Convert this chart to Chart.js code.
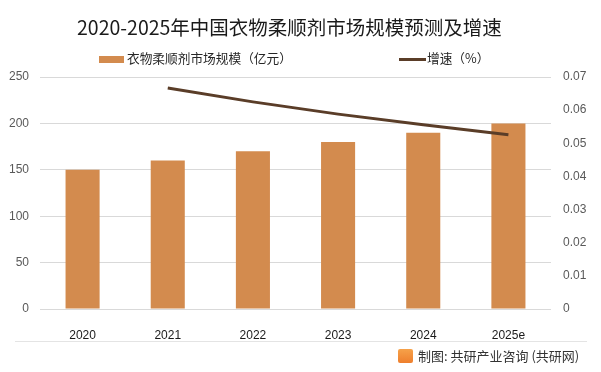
<!DOCTYPE html>
<html>
<head>
<meta charset="utf-8">
<script src="https://cdn.jsdelivr.net/npm/chart.js@4"></script>
<style>
  html, body { margin: 0; padding: 0; background: #fff; }
  #wrap { position: relative; width: 601px; height: 372px; overflow: hidden;
    font-family: "Noto Sans CJK SC", "Noto Sans", sans-serif; }
  #chart { position: absolute; left: 0; top: 0; }
  .title { position: absolute; left: 77px; top: 12px; font-size: 19.5px; color: #1a1a1a; white-space: nowrap; }
  .legend { position: absolute; top: 48px; font-size: 12.7px; color: #262626; white-space: nowrap; }
  .legend i { display: inline-block; vertical-align: middle; margin-right: 3px; }
  .foot-line { position: absolute; left: 15px; right: 14px; top: 341px; height: 1px; background: #e4e4e4; }
  .foot { position: absolute; left: 398px; top: 346px; font-size: 13px; color: #333; white-space: nowrap; }
  .logo { display: inline-block; width: 15px; height: 14px; vertical-align: -2px; margin-right: 5px;
    background: linear-gradient(#f6a24a, #ee7f2d); border-radius: 2px; }
</style>
</head>
<body>
<div id="wrap">
  <canvas id="chart" width="601" height="372"></canvas>
  <div class="title">2020-2025年中国衣物柔顺剂市场规模预测及增速</div>
  <div class="legend" style="left:99px"><i style="width:25px;height:7px;background:#d38b4e"></i>衣物柔顺剂市场规模（亿元）</div>
  <div class="legend" style="left:399px"><i style="width:27px;height:3px;background:#5a3d28;margin-right:1px"></i>增速（%）</div>
  <div class="foot-line"></div>
  <div class="foot"><span class="logo"></span>制图: 共研产业咨询 (共研网)</div>
</div>
<script>
// 연도 / 시장규모(억위안) / 증속
const years = ['2020', '2021', '2022', '2023', '2024', '2025e'];
const marketSize = [150, 160, 170, 180, 190, 200];
const growthRate = [null, 0.0667, 0.0625, 0.0588, 0.0556, 0.0526];
const leftTicks = [0, 50, 100, 150, 200, 250];
const rightTicks = ['0', '0.01', '0.02', '0.03', '0.04', '0.05', '0.06', '0.07'];

const tickFont = { family: 'Liberation Sans', size: 12 };

new Chart(document.getElementById('chart'), {
  data: {
    labels: years,
    datasets: [{
      type: 'line',
      label: '增速（%）',
      data: growthRate,
      yAxisID: 'y1',
      borderColor: '#5a3d28',
      borderWidth: 3,
      pointRadius: 0,
      tension: 0,
      order: 0
    }, {
      type: 'bar',
      label: '衣物柔顺剂市场规模（亿元）',
      data: marketSize,
      yAxisID: 'y',
      backgroundColor: '#d38b4e',
      barPercentage: 0.4,
      categoryPercentage: 1,
      order: 1
    }]
  },
  options: {
    responsive: false,
    animation: false,
    layout: { padding: { top: 77, left: 0, right: 0, bottom: 0 } },
    plugins: {
      legend: { display: false },
      title: { display: false },
      tooltip: { enabled: false }
    },
    scales: {
      x: {
        grid: { display: false },
        border: { display: false },
        ticks: { color: '#1a1a1a', font: tickFont, padding: 11 },
        afterFit(scale) { scale.height = 63; }
      },
      y: {
        position: 'left',
        min: leftTicks[0],
        max: leftTicks[leftTicks.length - 1],
        grid: { color: '#d9d9d9', drawTicks: false },
        border: { display: false },
        ticks: { stepSize: 50, color: '#595959', font: tickFont, padding: 11 },
        afterFit(scale) { scale.width = 40; }
      },
      y1: {
        position: 'right',
        min: 0,
        max: 0.07,
        grid: { display: false, drawTicks: false },
        border: { display: false },
        ticks: {
          stepSize: 0.01,
          color: '#595959',
          font: tickFont,
          padding: 12,
          callback: (v, i) => rightTicks[i]
        },
        afterFit(scale) { scale.width = 50; }
      }
    }
  }
});
</script>
</body>
</html>
